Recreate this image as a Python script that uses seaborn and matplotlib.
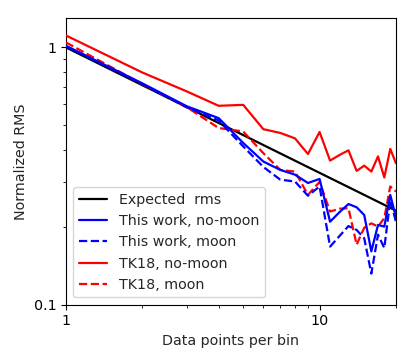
import numpy as np
import pandas as pd
import matplotlib
matplotlib.use("Agg")
import matplotlib.pyplot as plt
from matplotlib.ticker import FixedLocator, FixedFormatter, NullFormatter, LogLocator
import seaborn as sns

# Values
n_points = list(range(1, 21))

expected_x = [1, 20]
expected_rms = [1.0, 0.232]

this_work_nomoon = [1.015, 0.725, 0.59, 0.531, 0.425, 0.360, 0.334, 0.320, 0.297, 0.308,
                    0.210, 0.229, 0.246, 0.239, 0.223, 0.161, 0.204, 0.201, 0.267, 0.219]
this_work_moon = [1.01, 0.72, 0.585, 0.52, 0.412, 0.343, 0.306, 0.301, 0.265, 0.288,
                  0.168, 0.185, 0.202, 0.195, 0.181, 0.132, 0.187, 0.166, 0.255, 0.210]
tk18_nomoon = [1.113, 0.799, 0.674, 0.593, 0.598, 0.481, 0.465, 0.443, 0.385, 0.469,
               0.363, 0.382, 0.398, 0.331, 0.347, 0.329, 0.377, 0.312, 0.403, 0.355]
tk18_moon = [1.046, 0.72, 0.585, 0.486, 0.471, 0.388, 0.334, 0.329, 0.267, 0.300,
             0.230, 0.236, 0.237, 0.171, 0.199, 0.207, 0.201, 0.217, 0.288, 0.275]

sns.set_style("ticks")
plt.rcParams['font.family'] = ['DejaVu Sans']
plt.rcParams['axes.edgecolor'] = 'black'
plt.rcParams['xtick.color'] = 'black'
plt.rcParams['ytick.color'] = 'black'
plt.rcParams['xtick.minor.size'] = 2.2
plt.rcParams['ytick.minor.size'] = 2.2

fs = 10.3

fig = plt.figure(figsize=(4.15, 3.63), dpi=100)
ax = fig.add_axes([0.159, 0.161, 0.795, 0.789])

series = [
    ("Expected  rms", expected_x, expected_rms, "black", "-", 2),
    ("This work, no-moon", n_points, this_work_nomoon, "blue", "-", 4),
    ("This work, moon", n_points, this_work_moon, "blue", "--", 4),
    ("TK18, no-moon", n_points, tk18_nomoon, "red", "-", 3),
    ("TK18, moon", n_points, tk18_moon, "red", "--", 3),
]
for label, xs, ys, col, ls, z in series:
    df = pd.DataFrame({"n": xs, "rms": ys})
    sns.lineplot(data=df, x="n", y="rms", ax=ax, color=col, linestyle=ls,
                 linewidth=1.6, label=label, zorder=z)

ax.set_xscale("log")
ax.set_yscale("log")
ax.set_xlim(1, 20)
ax.set_ylim(0.1, 1.3)

ax.xaxis.set_major_locator(FixedLocator([1, 10]))
ax.xaxis.set_major_formatter(FixedFormatter(["1", "10"]))
ax.xaxis.set_minor_locator(LogLocator(base=10, subs=np.arange(2, 10)))
ax.xaxis.set_minor_formatter(NullFormatter())
ax.yaxis.set_major_locator(FixedLocator([0.1, 1]))
ax.yaxis.set_major_formatter(FixedFormatter(["0.1", "1"]))
ax.yaxis.set_minor_locator(LogLocator(base=10, subs=np.arange(2, 10)))
ax.yaxis.set_minor_formatter(NullFormatter())
ax.tick_params(which="both", labelsize=fs)

ax.set_xlabel("Data points per bin", fontsize=fs)
ax.set_ylabel("Normalized RMS", fontsize=fs)

ax.legend(loc="lower left", fontsize=fs, frameon=True)

fig.savefig("out.png", dpi=100)
